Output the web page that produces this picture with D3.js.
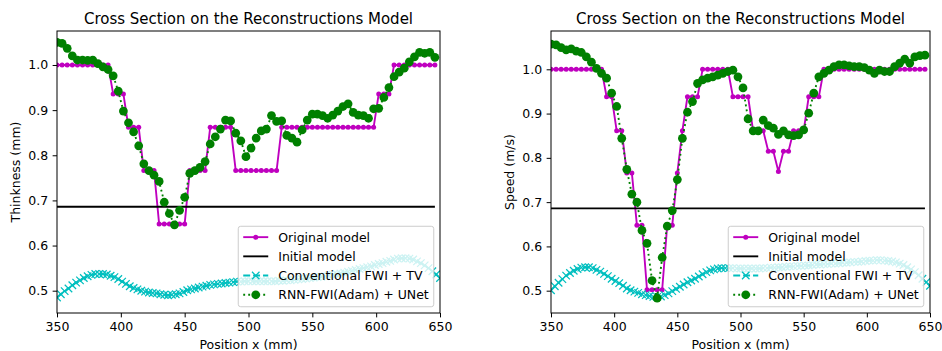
<!DOCTYPE html>
<html>
<head>
<meta charset="utf-8">
<script src="https://cdn.jsdelivr.net/npm/d3@7"></script>
<style>
  body { margin: 0; background: #ffffff; }
  svg { display: block; }
  text { font-family: "DejaVu Sans", sans-serif; fill: #000; }
</style>
</head>
<body>
<svg id="chart" width="942" height="351"></svg>
<script>
// ---- data -------------------------------------------------------------
// Sample positions (mm) of the original model and the RNN-FWI result
const positions = [350,354,358,362,366,370,374,378,382,386,390,394,398,402,406,410,414,418,422,426,
  430,434,438,442,446,450,454,458,462,466,470,474,478,482,486,490,494,498,502,506,
  510,514,518,522,526,530,534,538,542,546,550,554,558,562,566,570,574,578,582,586,
  590,594,598,602,606,610,614,618,622,626,630,634,638,642,646];

// Sample positions (mm) of the conventional FWI + TV result
const fwiPositions = [350,353,356,359,362,365,368,371,374,377,380,383,386,389,392,395,398,401,404,407,
  410,413,416,419,422,425,428,431,434,437,440,443,446,449,452,455,458,461,464,467,
  470,473,476,479,482,485,488,491,494,497,500,503,506,509,512,515,518,521,524,527,
  530,533,536,539,542,545,548,551,554,557,560,563,566,569,572,575,578,581,584,587,
  590,593,596,599,602,605,608,611,614,617,620,623,626,629,632,635,638,641,644,647,650];

// Extent of the flat initial model
const initialPositions = [350, 646];

// Thickness panel
const thicknessOriginal = [1.0,1.0,1.0,1.0,1.0,1.0,1.0,1.0,1.0,1.0,1.0,0.936,0.936,0.936,0.862,0.862,0.862,0.766,0.766,0.766,
  0.648,0.648,0.648,0.648,0.648,0.648,0.766,0.766,0.766,0.766,0.862,0.862,0.862,0.862,0.862,0.766,0.766,0.766,0.766,0.766,
  0.766,0.766,0.766,0.766,0.862,0.862,0.862,0.862,0.862,0.862,0.862,0.862,0.862,0.862,0.862,0.862,0.862,0.862,0.862,0.862,
  0.862,0.862,0.862,0.936,0.936,0.936,1.0,1.0,1.0,1.0,1.0,1.0,1.0,1.0,1.0];
const thicknessInitial = [0.686, 0.686];
const thicknessFwi = [0.485,0.492,0.499,0.505,0.512,0.518,0.523,0.528,0.532,0.535,
  0.537,0.537,0.537,0.536,0.533,0.530,0.526,0.520,0.515,0.510,
  0.506,0.503,0.500,0.498,0.496,0.495,0.494,0.492,0.491,0.490,
  0.491,0.492,0.494,0.497,0.501,0.503,0.505,0.507,0.509,0.511,
  0.513,0.514,0.515,0.516,0.517,0.518,0.519,0.520,0.520,0.521,
  0.521,0.521,0.521,0.521,0.521,0.521,0.521,0.521,0.522,0.522,
  0.523,0.523,0.524,0.525,0.526,0.527,0.528,0.529,0.530,0.531,
  0.532,0.534,0.535,0.537,0.538,0.540,0.542,0.544,0.546,0.548,
  0.550,0.552,0.554,0.557,0.559,0.561,0.564,0.566,0.569,0.571,
  0.572,0.572,0.571,0.569,0.565,0.561,0.556,0.550,0.543,0.536,0.528];
const thicknessRnn = [1.050,1.048,1.037,1.020,1.011,1.011,1.010,1.011,1.003,0.996,0.990,0.976,0.942,0.898,0.872,0.852,0.821,0.781,0.766,0.756,
  0.742,0.696,0.671,0.646,0.678,0.707,0.760,0.766,0.773,0.786,0.825,0.841,0.858,0.878,0.876,0.849,0.832,0.797,0.816,0.838,
  0.854,0.858,0.888,0.875,0.876,0.844,0.838,0.829,0.856,0.878,0.891,0.891,0.888,0.882,0.889,0.898,0.908,0.914,0.895,0.889,
  0.888,0.882,0.903,0.904,0.928,0.950,0.974,0.984,0.993,1.007,1.018,1.028,1.026,1.028,1.017];

// Speed panel
const speedOriginal = [1.0,1.0,1.0,1.0,1.0,1.0,1.0,1.0,1.0,1.0,1.0,0.938,0.938,0.861,0.861,0.766,0.766,0.648,0.648,0.502,
  0.502,0.502,0.502,0.648,0.648,0.766,0.861,0.938,0.938,0.938,1.0,1.0,1.0,1.0,1.0,1.0,0.938,0.938,0.938,0.938,
  0.861,0.861,0.861,0.815,0.815,0.769,0.815,0.815,0.861,0.861,0.861,0.938,0.938,0.938,1.0,1.0,1.0,1.0,1.0,1.0,
  1.0,1.0,1.0,1.0,1.0,1.0,1.0,1.0,1.0,1.0,1.0,1.0,1.0,1.0,1.0];
const speedInitial = [0.686, 0.686];
const speedFwi = [0.501,0.510,0.518,0.526,0.534,0.540,0.545,0.549,0.552,0.553,
  0.553,0.551,0.547,0.543,0.538,0.533,0.527,0.522,0.517,0.511,
  0.505,0.501,0.498,0.495,0.492,0.490,0.488,0.486,0.486,0.487,
  0.490,0.494,0.499,0.504,0.509,0.514,0.519,0.523,0.527,0.532,
  0.537,0.542,0.546,0.548,0.550,0.551,0.551,0.551,0.551,0.550,
  0.550,0.550,0.550,0.550,0.550,0.550,0.551,0.551,0.552,0.552,
  0.553,0.553,0.554,0.555,0.555,0.556,0.556,0.557,0.557,0.558,
  0.559,0.559,0.560,0.560,0.561,0.561,0.562,0.563,0.563,0.564,
  0.565,0.565,0.566,0.567,0.568,0.568,0.569,0.569,0.568,0.567,
  0.566,0.564,0.561,0.558,0.553,0.548,0.542,0.535,0.527,0.519,0.511];
const speedRnn = [1.057,1.055,1.049,1.044,1.046,1.041,1.038,1.028,1.016,1.002,0.991,0.980,0.946,0.916,0.844,0.774,0.718,0.700,0.636,0.607,
  0.523,0.483,0.575,0.646,0.681,0.751,0.844,0.903,0.927,0.968,0.976,0.980,0.983,0.987,0.991,0.995,0.998,0.983,0.958,0.888,
  0.861,0.861,0.885,0.873,0.867,0.853,0.861,0.852,0.850,0.852,0.863,0.901,0.946,0.983,0.991,0.998,1.006,1.010,1.010,1.008,
  1.006,1.006,1.004,0.998,0.991,0.998,0.995,0.995,1.006,1.014,1.023,1.014,1.028,1.031,1.032];

const xTicks = [350, 400, 450, 500, 550, 600, 650];
const yTicks = [0.5, 0.6, 0.7, 0.8, 0.9, 1.0];
const seriesLabels = ["Original model", "Initial model", "Conventional FWI + TV", "RNN-FWI(Adam) + UNet"];
const chartTitle = "Cross Section on the Reconstructions Model";
const xLabel = "Position x (mm)";

// ---- styling ----------------------------------------------------------
const C_ORIG = "#bf00bf", C_INIT = "#000000", C_FWI = "#00bfbf", C_RNN = "#008000";
const LW = 1.875;
const FS = 12.5;

const panels = [
  { yLabel: "Thinkness (mm)", original: thicknessOriginal, initial: thicknessInitial, fwi: thicknessFwi, rnn: thicknessRnn,
    box: { left: 57, right: 440, top: 31, bottom: 313 }, yDomain: [0.4506, 1.0753], yLabelX: 20 },
  { yLabel: "Speed (m/s)", original: speedOriginal, initial: speedInitial, fwi: speedFwi, rnn: speedRnn,
    box: { left: 551, right: 930, top: 31, bottom: 313 }, yDomain: [0.4496, 1.0865], yLabelX: 514 }
];

const svg = d3.select("#chart");
const defs = svg.append("defs");

const crossPath = "M-3.75,-3.75L3.75,3.75M-3.75,3.75L3.75,-3.75";

function drawOriginal(g, pts, x, y) {
  g.append("path").datum(pts)
    .attr("d", d3.line().x(d => x(d[0])).y(d => y(d[1])))
    .attr("fill", "none").attr("stroke", C_ORIG).attr("stroke-width", LW).attr("stroke-linejoin", "round");
  g.selectAll(null).data(pts).join("circle")
    .attr("cx", d => x(d[0])).attr("cy", d => y(d[1])).attr("r", 2.5).attr("fill", C_ORIG);
}
function drawInitial(g, pts, x, y) {
  g.append("path").datum(pts)
    .attr("d", d3.line().x(d => x(d[0])).y(d => y(d[1])))
    .attr("fill", "none").attr("stroke", C_INIT).attr("stroke-width", LW);
}
function drawFwi(g, pts, x, y) {
  g.append("path").datum(pts)
    .attr("d", d3.line().x(d => x(d[0])).y(d => y(d[1])))
    .attr("fill", "none").attr("stroke", C_FWI).attr("stroke-width", LW)
    .attr("stroke-dasharray", "6.9,3");
  g.selectAll(null).data(pts).join("path")
    .attr("d", crossPath)
    .attr("transform", d => `translate(${x(d[0])},${y(d[1])})`)
    .attr("fill", "none").attr("stroke", C_FWI).attr("stroke-width", 1.25);
}
function drawRnn(g, pts, x, y) {
  g.append("path").datum(pts)
    .attr("d", d3.line().x(d => x(d[0])).y(d => y(d[1])))
    .attr("fill", "none").attr("stroke", C_RNN).attr("stroke-width", LW)
    .attr("stroke-dasharray", "1.9,3.1");
  g.selectAll(null).data(pts).join("circle")
    .attr("cx", d => x(d[0])).attr("cy", d => y(d[1])).attr("r", 4.375).attr("fill", C_RNN);
}

panels.forEach((p, i) => {
  const b = p.box;
  const x = d3.scaleLinear().domain([350, 650]).range([b.left, b.right]);
  const y = d3.scaleLinear().domain(p.yDomain).range([b.bottom, b.top]);

  const clipId = "plot-clip-" + i;
  defs.append("clipPath").attr("id", clipId).append("rect")
    .attr("x", b.left).attr("y", b.top).attr("width", b.right - b.left).attr("height", b.bottom - b.top);

  const g = svg.append("g");
  const plot = g.append("g").attr("clip-path", `url(#${clipId})`);

  drawOriginal(plot, d3.zip(positions, p.original), x, y);
  drawInitial(plot, d3.zip(initialPositions, p.initial), x, y);
  drawFwi(plot, d3.zip(fwiPositions, p.fwi), x, y);
  drawRnn(plot, d3.zip(positions, p.rnn), x, y);

  // axes
  const xAxis = g.append("g").attr("transform", `translate(0,${b.bottom})`)
    .call(d3.axisBottom(x).tickValues(xTicks).tickFormat(d3.format("d")).tickSize(4.375).tickPadding(4.4));
  const yAxis = g.append("g").attr("transform", `translate(${b.left},0)`)
    .call(d3.axisLeft(y).tickValues(yTicks).tickFormat(d3.format(".1f")).tickSize(4.375).tickPadding(4.4));
  [xAxis, yAxis].forEach(a => {
    a.select(".domain").remove();
    a.selectAll("line").attr("stroke", "#000").attr("stroke-width", 1);
    a.selectAll("text").attr("font-size", FS).attr("font-family", '"DejaVu Sans", sans-serif').attr("fill", "#000");
  });

  // spines
  g.append("rect").attr("x", b.left).attr("y", b.top)
    .attr("width", b.right - b.left).attr("height", b.bottom - b.top)
    .attr("fill", "none").attr("stroke", "#000").attr("stroke-width", 1);

  // title and labels
  g.append("text").attr("x", (b.left + b.right) / 2).attr("y", 23.5)
    .attr("text-anchor", "middle").attr("font-size", 15).text(chartTitle);
  g.append("text").attr("x", (b.left + b.right) / 2).attr("y", 349)
    .attr("text-anchor", "middle").attr("font-size", FS).text(xLabel);
  g.append("text").attr("transform", `translate(${p.yLabelX},${(b.top + b.bottom) / 2}) rotate(-90)`)
    .attr("text-anchor", "middle").attr("font-size", FS).text(p.yLabel);

  // legend
  const lg = g.append("g");
  const frame = lg.append("rect");
  const texts = seriesLabels.map(s => lg.append("text").attr("font-size", FS).text(s));
  const maxW = d3.max(texts, t => t.node().getComputedTextLength());
  const pad = 5, handleLen = 25, textPad = 10, rowStep = 19.2;
  const w = pad + handleLen + textPad + maxW + pad;
  const h = 80.5;
  const right = b.right - 6.25, bottom = b.bottom - 6.25;
  const left = right - w, top = bottom - h;
  frame.attr("x", left).attr("y", top).attr("width", w).attr("height", h)
    .attr("rx", 2.5).attr("ry", 2.5)
    .attr("fill", "#ffffff").attr("fill-opacity", 0.8)
    .attr("stroke", "#cccccc").attr("stroke-width", 1);
  const rowY = k => top + pad + 5.9 + k * rowStep;
  const hx0 = left + pad, hx1 = left + pad + handleLen, hxm = (hx0 + hx1) / 2;
  texts.forEach((t, k) => t.attr("x", hx1 + textPad).attr("y", rowY(k)).attr("dy", "0.36em"));

  const hl = (k, color, dash) => lg.append("line")
    .attr("x1", hx0).attr("x2", hx1).attr("y1", rowY(k)).attr("y2", rowY(k))
    .attr("stroke", color).attr("stroke-width", LW).attr("stroke-dasharray", dash || null);
  hl(0, C_ORIG);
  lg.append("circle").attr("cx", hxm).attr("cy", rowY(0)).attr("r", 2.5).attr("fill", C_ORIG);
  hl(1, C_INIT);
  hl(2, C_FWI, "6.9,3");
  lg.append("path").attr("d", crossPath).attr("transform", `translate(${hxm},${rowY(2)})`)
    .attr("fill", "none").attr("stroke", C_FWI).attr("stroke-width", 1.25);
  hl(3, C_RNN, "1.9,3.1");
  lg.append("circle").attr("cx", hxm).attr("cy", rowY(3)).attr("r", 4.375).attr("fill", C_RNN);
});
</script>
</body>
</html>
